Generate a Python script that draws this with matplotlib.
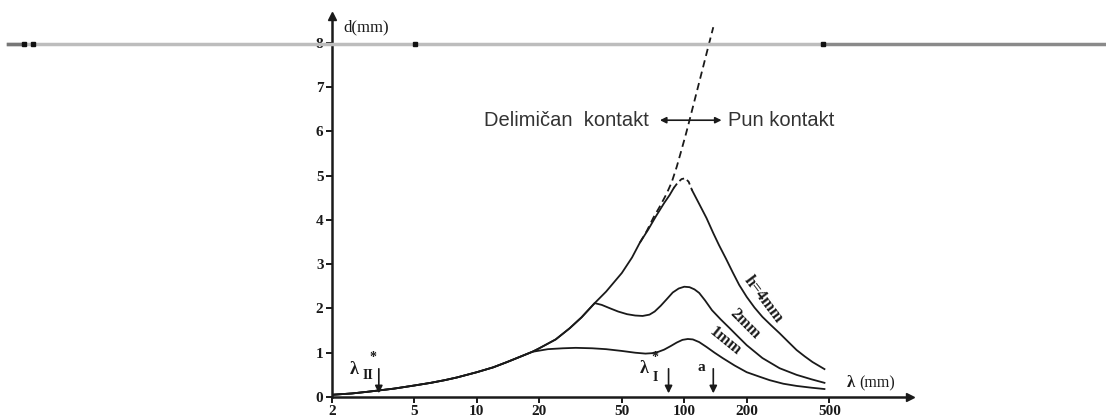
import matplotlib.pyplot as plt
from matplotlib.lines import Line2D

# curve data (lambda in mm, d in mm)
lam_low = [2, 2.5, 3, 4, 5, 6, 7, 8, 10, 12, 14, 16, 18.5]
d_low = [0.05, 0.08, 0.12, 0.19, 0.26, 0.32, 0.38, 0.44, 0.56, 0.67, 0.79, 0.9, 1.02]

lam_mid = [20, 24, 28, 32, 37]
d_mid = [1.1, 1.3, 1.55, 1.8, 2.12]

lam_1mm = [22, 26, 30, 36, 42, 50, 58, 65, 70, 75, 80, 86, 92, 98, 104, 110, 118, 128, 140,
           153, 175, 200, 230, 258, 300, 348, 410, 474]
d_1mm = [1.08, 1.1, 1.11, 1.1, 1.08, 1.04, 1.0, 0.98, 0.99, 1.02, 1.07, 1.15, 1.23, 1.29, 1.31,
         1.3, 1.24, 1.13, 1.0, 0.88, 0.71, 0.56, 0.46, 0.38, 0.3, 0.25, 0.21, 0.18]

lam_2mm = [40, 44, 48, 53, 58, 63, 68, 72, 77, 82, 88, 94, 100, 106, 112, 118, 126, 136, 150,
           165, 182, 200, 238, 288, 348, 410, 474]
d_2mm = [2.08, 2.0, 1.93, 1.87, 1.84, 1.83, 1.86, 1.93, 2.06, 2.2, 2.36, 2.45, 2.49, 2.48, 2.43,
         2.35, 2.18, 1.96, 1.75, 1.56, 1.36, 1.17, 0.88, 0.65, 0.5, 0.4, 0.32]

lam_4mm = [42, 50, 56, 61, 67, 73, 80, 85, 89, 93, 97, 101, 105, 109, 118, 128, 138, 147, 159,
           171, 184, 200, 218, 238, 262, 288, 318, 348, 380, 415, 474]
d_4mm = [2.38, 2.8, 3.15, 3.48, 3.78, 4.08, 4.38, 4.56, 4.72, 4.84, 4.92, 4.94, 4.86, 4.67, 4.36,
         4.04, 3.7, 3.43, 3.12, 2.82, 2.53, 2.26, 2.02, 1.81, 1.62, 1.44, 1.24, 1.06, 0.92, 0.79, 0.63]

lam_dash = [61, 66, 71, 76, 82, 87, 92, 97, 102, 106, 115, 124, 132, 138]
d_dash = [3.48, 3.75, 4.05, 4.29, 4.58, 4.85, 5.2, 5.58, 5.95, 6.25, 6.9, 7.5, 8.0, 8.35]

xticks = [2, 5, 10, 20, 50, 100, 200, 500]
yticks = [0, 1, 2, 3, 4, 5, 6, 7, 8]
arrow_lams = [3.37, 84, 138]

ink = '#1a1a1a'
serif = 'Liberation Serif'

fig = plt.figure(figsize=(11.06, 4.19), dpi=100)
ax = fig.add_axes([0.300, 0.0525, 0.5226, 0.909])
ax.set_xscale('log')
ax.set_xlim(2, 1222)
ax.set_ylim(0, 8.6)

# curves
ax.plot(lam_low + lam_1mm, d_low + d_1mm, color=ink, lw=1.3)
ax.plot(lam_low + lam_mid + lam_2mm, d_low + d_mid + d_2mm, color=ink, lw=1.3)
full4_l = lam_low + lam_mid + lam_4mm
full4_d = d_low + d_mid + d_4mm
i1 = full4_l.index(89)
i2 = full4_l.index(109)
ax.plot(full4_l[:i1 + 1], full4_d[:i1 + 1], color=ink, lw=1.3)
ax.plot(full4_l[i1:i2 + 1], full4_d[i1:i2 + 1], color=ink, lw=1.3, dashes=(3, 2))
ax.plot(full4_l[i2:], full4_d[i2:], color=ink, lw=1.3)
ax.plot(lam_dash, d_dash, color=ink, lw=1.3, dashes=(4, 2.5), clip_on=False)

# curve labels
lab = dict(fontfamily=serif, fontweight='bold', fontsize=12, color=ink,
           ha='center', va='center', rotation_mode='anchor')
ax.text(240, 2.2, 'h=4mm', rotation=-53, **lab)
ax.text(195, 1.66, '2mm', rotation=-45, **lab)
ax.text(157, 1.26, '1mm', rotation=-39, **lab)

# arrows on the axis
for xl in arrow_lams:
    ax.annotate('', xy=(xl, 0.02), xytext=(xl, 0.7),
                arrowprops=dict(arrowstyle='-|>', lw=1.2, color=ink, mutation_scale=11))
sym = dict(fontfamily=serif, fontweight='bold', color=ink, ha='center', va='center')
ax.text(2.55, 0.61, 'λ', fontsize=13, **sym)
ax.text(3.17, 0.9, '*', fontsize=10, **sym)
ax.text(2.97, 0.48, 'II', fontsize=10, **sym)
ax.text(64, 0.65, 'λ', fontsize=13, **sym)
ax.text(72, 0.9, '*', fontsize=10, **sym)
ax.text(72.5, 0.45, 'I', fontsize=10, **sym)
ax.text(121, 0.67, 'a', fontsize=11, **sym)

# contact region labels
ax.text(67.5, 6.25, 'Delimičan  kontakt', fontfamily='Liberation Sans', fontsize=14.5,
        color='#333333', ha='right', va='center')
ax.text(162, 6.25, 'Pun kontakt', fontfamily='Liberation Sans', fontsize=14.5,
        color='#333333', ha='left', va='center')
ax.annotate('', xy=(74, 6.25), xytext=(156, 6.25),
            arrowprops=dict(arrowstyle='<|-|>', lw=1.2, color=ink, mutation_scale=9))

# axes styling
for s in ['top', 'right']:
    ax.spines[s].set_visible(False)
for s in ['left', 'bottom']:
    ax.spines[s].set_linewidth(1.8)
    ax.spines[s].set_color(ink)
ax.plot([0], [1], marker='^', color=ink, ms=6, transform=ax.transAxes, clip_on=False)
ax.plot([1], [0], marker='>', color=ink, ms=6, transform=ax.transAxes, clip_on=False)

ax.set_xticks(xticks)
ax.set_xticklabels([str(t) for t in xticks])
ax.xaxis.set_minor_locator(plt.NullLocator())
ax.set_yticks(yticks)
ax.tick_params(direction='out', length=4, width=1.4, color=ink, pad=2, labelsize=11)
for t in ax.get_xticklabels() + ax.get_yticklabels():
    t.set_fontfamily(serif)
    t.set_fontweight('bold')
    t.set_color(ink)

fig.text(343 / 1106, 1 - 27 / 419, 'd(mm)', fontfamily=serif, fontsize=12, color=ink, va='center')
fig.text(847 / 1106, 1 - 383 / 419, 'λ', fontfamily=serif, fontweight='bold', fontsize=12, color=ink, va='center')
fig.text(859 / 1106, 1 - 383 / 419, '(mm)', fontfamily=serif, fontsize=11.5, color=ink, va='center')

# grey scan streak across the top
yl = 1 - 44 / 419
fig.add_artist(Line2D([8 / 1106, 823 / 1106], [yl, yl], color='#bdbdbd', lw=2.5, transform=fig.transFigure))
fig.add_artist(Line2D([823 / 1106, 1], [yl, yl], color='#8a8a8a', lw=2.5, transform=fig.transFigure))
fig.add_artist(Line2D([8 / 1106, 22 / 1106], [yl, yl], color='#777777', lw=2.5, transform=fig.transFigure))
for xp in [24, 33, 415, 823]:
    fig.add_artist(Line2D([xp / 1106], [yl], marker='s', ms=2.5, color='#111111', lw=0,
                          transform=fig.transFigure))

fig.savefig('out.png', dpi=100)
